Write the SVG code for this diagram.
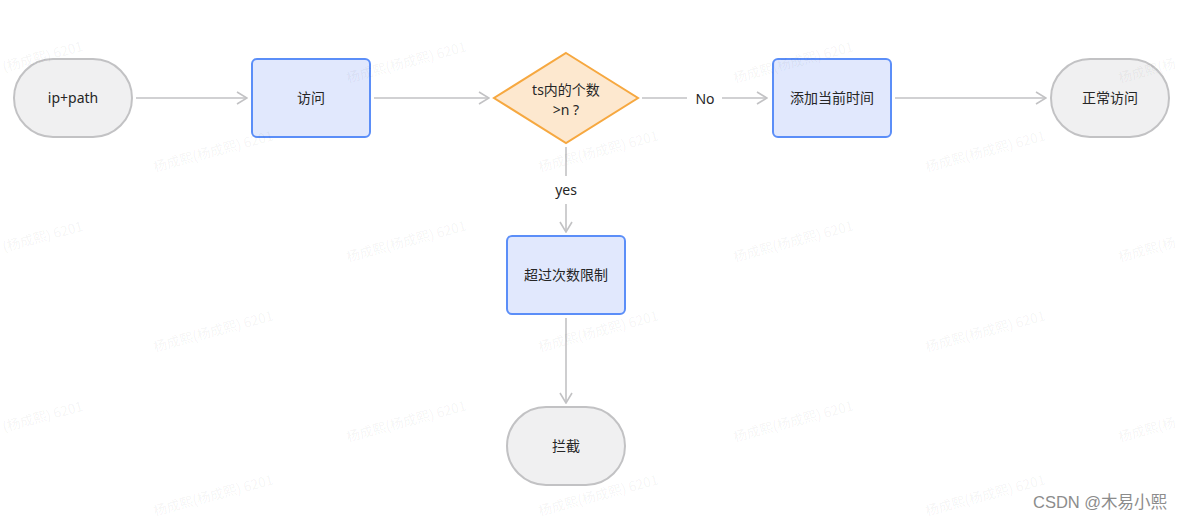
<svg xmlns="http://www.w3.org/2000/svg" width="1185" height="520" viewBox="0 0 1185 520">
  <defs>
    <style>
      .term { fill: #f0f0f1; stroke: #c2c2c4; stroke-width: 2; }
      .proc { fill: #e1e8fd; stroke: #5b8ef8; stroke-width: 2; }
      .dec { fill: #fde8cf; stroke: #f6a840; stroke-width: 2; }
      .lbl { font-family: "Noto Sans", "Noto Sans CJK SC", sans-serif; font-size: 14px; fill: #262626; text-anchor: middle; }
      .edge { fill: none; stroke: #c2c2c4; stroke-width: 1.6; marker-end: url(#arr); }
      .elbl { font-family: "Noto Sans", "Noto Sans CJK SC", sans-serif; font-size: 14px; fill: #262626; text-anchor: middle; }
      .wm { font-family: "Noto Sans CJK SC", "Noto Sans", sans-serif; font-size: 13.5px; fill: #000; fill-opacity: 0.055; }
      .sig { font-family: "Liberation Sans", "Noto Sans CJK SC", sans-serif; font-size: 16.5px; fill: #8c8c8c; }
    </style>
    <marker id="arr" viewBox="0 0 12 14" refX="11" refY="7" markerWidth="12" markerHeight="14" markerUnits="userSpaceOnUse" orient="auto">
      <path d="M1,1 L11,7 L1,13" fill="none" stroke="#c2c2c4" stroke-width="1.6"/>
    </marker>
  </defs>
  <rect width="1185" height="520" fill="#ffffff"/>

  <g id="connectors">
    <path class="edge" d="M136,98 L247,98"/>
    <path class="edge" d="M374,98 L489,98"/>
    <path class="edge" d="M642,98 L767,98"/>
    <path class="edge" d="M895,98 L1046,98"/>
    <path class="edge" d="M566,147 L566,232"/>
    <path class="edge" d="M566,318 L566,403"/>
    <g id="label-no">
      <rect x="687" y="88" width="35" height="22" fill="#ffffff"/>
      <text class="elbl" x="705" y="104">No</text>
    </g>
    <g id="label-yes">
      <rect x="547" y="176" width="38" height="28" fill="#ffffff"/>
      <text class="elbl" x="566" y="195">yes</text>
    </g>
  </g>

  <g id="node-start">
    <rect class="term" x="14" y="59" width="118" height="78" rx="39" ry="39"/>
    <text class="lbl" x="73" y="103">ip+path</text>
  </g>
  <g id="node-visit">
    <rect class="proc" x="252" y="59" width="118" height="78" rx="5" ry="5"/>
    <text class="lbl" x="311" y="103">访问</text>
  </g>
  <g id="node-decision">
    <polygon class="dec" points="566,53 638,98 566,143 494,98"/>
    <text class="lbl" x="566" y="95">ts内的个数</text>
    <text class="lbl" x="566" y="115">&gt;n ?</text>
  </g>
  <g id="node-addtime">
    <rect class="proc" x="773" y="59" width="118" height="78" rx="5" ry="5"/>
    <text class="lbl" x="832" y="103">添加当前时间</text>
  </g>
  <g id="node-normal">
    <rect class="term" x="1051" y="59" width="118" height="78" rx="39" ry="39"/>
    <text class="lbl" x="1110" y="103">正常访问</text>
  </g>
  <g id="node-exceed">
    <rect class="proc" x="507" y="236" width="118" height="78" rx="5" ry="5"/>
    <text class="lbl" x="566" y="280">超过次数限制</text>
  </g>
  <g id="node-block">
    <rect class="term" x="507" y="407" width="118" height="78" rx="39" ry="39"/>
    <text class="lbl" x="566" y="451">拦截</text>
  </g>

  <g id="watermarks">
    <text class="wm" transform="translate(4,72) rotate(-15)">(杨成熙) 6201</text>
    <text class="wm" transform="translate(348,83) rotate(-15)">杨成熙(杨成熙) 6201</text>
    <text class="wm" transform="translate(735,83) rotate(-15)">杨成熙(杨成熙) 6201</text>
    <text class="wm" transform="translate(1120,83) rotate(-15)">杨成熙(杨</text>
    <text class="wm" transform="translate(155,172) rotate(-15)">杨成熙(杨成熙) 6201</text>
    <text class="wm" transform="translate(540,172) rotate(-15)">杨成熙(杨成熙) 6201</text>
    <text class="wm" transform="translate(927,172) rotate(-15)">杨成熙(杨成熙) 6201</text>
    <text class="wm" transform="translate(4,252) rotate(-15)">(杨成熙) 6201</text>
    <text class="wm" transform="translate(348,262) rotate(-15)">杨成熙(杨成熙) 6201</text>
    <text class="wm" transform="translate(735,262) rotate(-15)">杨成熙(杨成熙) 6201</text>
    <text class="wm" transform="translate(1120,262) rotate(-15)">杨成熙(杨</text>
    <text class="wm" transform="translate(155,352) rotate(-15)">杨成熙(杨成熙) 6201</text>
    <text class="wm" transform="translate(540,352) rotate(-15)">杨成熙(杨成熙) 6201</text>
    <text class="wm" transform="translate(927,352) rotate(-15)">杨成熙(杨成熙) 6201</text>
    <text class="wm" transform="translate(4,432) rotate(-15)">(杨成熙) 6201</text>
    <text class="wm" transform="translate(348,442) rotate(-15)">杨成熙(杨成熙) 6201</text>
    <text class="wm" transform="translate(735,442) rotate(-15)">杨成熙(杨成熙) 6201</text>
    <text class="wm" transform="translate(1120,442) rotate(-15)">杨成熙(杨</text>
    <text class="wm" transform="translate(155,516) rotate(-15)">杨成熙(杨成熙) 6201</text>
    <text class="wm" transform="translate(540,516) rotate(-15)">杨成熙(杨成熙) 6201</text>
    <text class="wm" transform="translate(927,516) rotate(-15)">杨成熙(杨成熙) 6201</text>
  </g>

  <text class="sig" x="1033" y="508">CSDN @木易小熙</text>
</svg>
